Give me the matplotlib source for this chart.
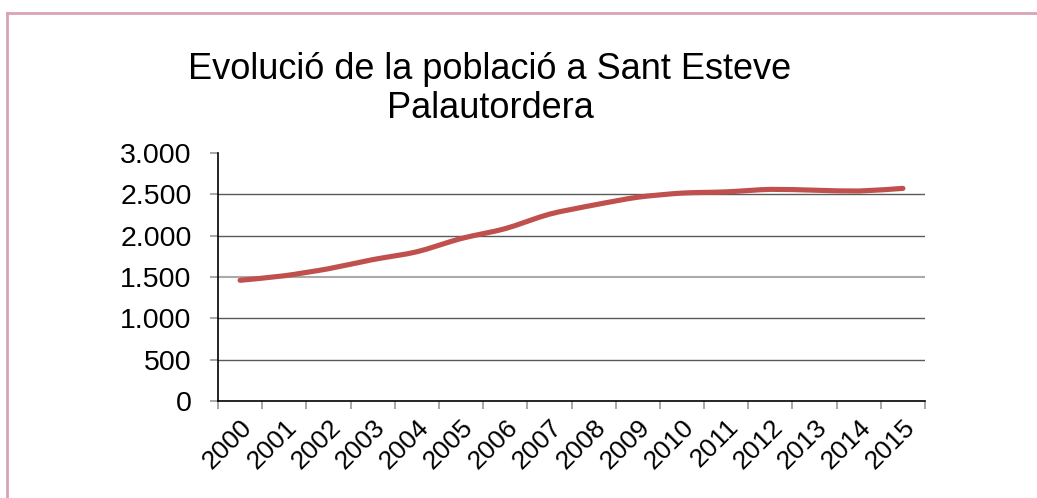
import matplotlib
matplotlib.use("Agg")
import matplotlib.pyplot as plt
from matplotlib.path import Path
from matplotlib.patches import PathPatch
from matplotlib.ticker import FuncFormatter, FixedLocator
import numpy as np

plt.rcParams['font.family'] = ['Liberation Sans', 'DejaVu Sans']

years = ['2000', '2001', '2002', '2003', '2004', '2005', '2006', '2007',
         '2008', '2009', '2010', '2011', '2012', '2013', '2014', '2015']
population = [1460, 1515, 1600, 1710, 1805, 1965, 2085, 2260,
              2370, 2465, 2515, 2530, 2560, 2550, 2540, 2572]
title = "Evolució de la població a Sant Esteve\nPalautordera"
yticks = [0, 500, 1000, 1500, 2000, 2500, 3000]

W, H = 1037, 498
fig = plt.figure(figsize=(W / 100, H / 100), dpi=100)
ax = fig.add_axes([218 / W, 1 - 401 / H, (925 - 218) / W, (401 - 153) / H])

# border of the chart area (pink)
fig.add_artist(plt.Line2D([7 / W, 7 / W], [1 - 13 / H, -0.1], color='#d9a3b7', lw=2,
                          transform=fig.transFigure))
fig.add_artist(plt.Line2D([7 / W, 1.1], [1 - 13 / H, 1 - 13 / H], color='#d9a3b7', lw=2,
                          transform=fig.transFigure))

x = np.arange(len(years))
y = np.array(population, dtype=float)

# smoothed line (Bezier through the data points)
verts = [(x[0], y[0])]
codes = [Path.MOVETO]
n = len(x)
t = 1 / 8
for i in range(n - 1):
    p0 = (x[max(i - 1, 0)], y[max(i - 1, 0)])
    p1 = (x[i], y[i])
    p2 = (x[i + 1], y[i + 1])
    p3 = (x[min(i + 2, n - 1)], y[min(i + 2, n - 1)])
    c1 = (p1[0] + (p2[0] - p0[0]) * t, p1[1] + (p2[1] - p0[1]) * t)
    c2 = (p2[0] - (p3[0] - p1[0]) * t, p2[1] - (p3[1] - p1[1]) * t)
    verts += [c1, c2, p2]
    codes += [Path.CURVE4] * 3
path = Path(verts, codes)
ax.add_patch(PathPatch(path, facecolor='none', edgecolor='#c0504d', lw=3.7,
                       capstyle='round', joinstyle='round', zorder=3))

# gridlines
for v in yticks[1:-1]:
    if v == 1500:
        ax.axhline(v, color='#aaaaaa', lw=1.5, zorder=1)
    else:
        ax.axhline(v, color='#5a5a5a', lw=1.0, zorder=1)

ax.set_xlim(-0.5, len(years) - 0.5)
ax.set_ylim(0, 3000)

ax.yaxis.set_major_locator(FixedLocator(yticks))
ax.yaxis.set_major_formatter(FuncFormatter(lambda v, p: f"{int(v):,}".replace(',', '.')))
ax.tick_params(axis='y', length=6, width=1.2, color='#999999', pad=13,
               labelsize=20.5, labelcolor='black')

ax.set_xticks(np.arange(-0.5, len(years), 1.0))
ax.set_xticklabels([])
ax.set_xticks(x, minor=True)
ax.set_xticklabels(years, minor=True, rotation=45, ha='right', va='top',
                   rotation_mode='anchor', fontsize=19)
ax.tick_params(axis='x', which='major', length=6, width=1.2, color='#999999')
ax.tick_params(axis='x', which='minor', length=0, pad=10)

for s in ['top', 'right']:
    ax.spines[s].set_visible(False)
ax.spines['left'].set_color('black')
ax.spines['bottom'].set_color('black')
ax.spines['left'].set_linewidth(1.2)
ax.spines['bottom'].set_linewidth(1.2)

fig.text(490 / W, 1 - 52 / H, title, ha='center', va='top', fontsize=26,
         linespacing=1.15, color='black')

fig.savefig('out.png', dpi=100, facecolor='white')
